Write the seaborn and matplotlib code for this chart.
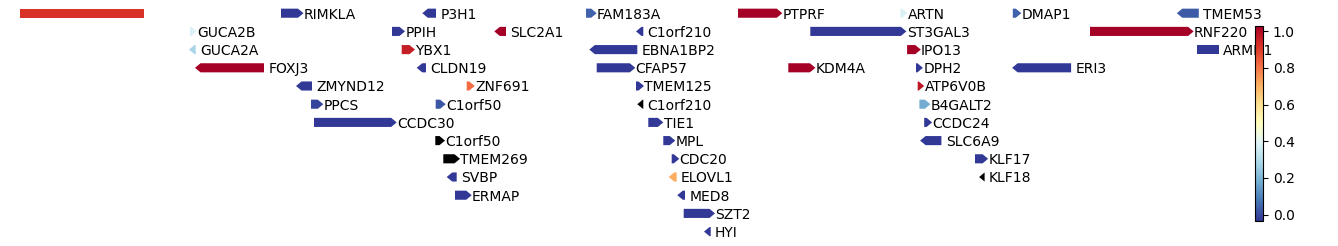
import numpy as np
import matplotlib
matplotlib.use("Agg")
import matplotlib.pyplot as plt
import matplotlib.colors as mcolors
import matplotlib.cm as mcm
from matplotlib.patches import Polygon
import seaborn as sns

# ---- data (track position units, row index from top, strand, score) ----
genes = ["", "RIMKLA", "P3H1", "FAM183A", "PTPRF", "ARTN", "DMAP1", "TMEM53",
         "GUCA2B", "PPIH", "SLC2A1", "C1orf210", "ST3GAL3", "RNF220",
         "GUCA2A", "YBX1", "EBNA1BP2", "IPO13", "ARMH1",
         "FOXJ3", "CLDN19", "CFAP57", "KDM4A", "DPH2", "ERI3",
         "ZMYND12", "ZNF691", "TMEM125", "ATP6V0B",
         "PPCS", "C1orf50", "C1orf210", "B4GALT2",
         "CCDC30", "TIE1", "CCDC24",
         "C1orf50", "MPL", "SLC6A9",
         "TMEM269", "CDC20", "KLF17",
         "SVBP", "ELOVL1", "KLF18",
         "ERMAP", "MED8",
         "SZT2",
         "HYI"]
starts = [20, 281, 422.3, 586, 738, 900.5, 1012.8, 1176.8,
          190, 392, 494.3, 636, 810.3, 1090,
          189, 401.7, 589.3, 907.1, 1197.3,
          195, 416.7, 596.7, 788.3, 916, 1012.1,
          296, 466.7, 636, 917.7,
          311, 435.7, 637.3, 919.4,
          314, 648.3, 924.2,
          435.3, 663.3, 920.1,
          443.3, 671.7, 975,
          446.7, 668.7, 979.1,
          455, 677.3,
          683.7,
          704]
ends = [144, 303.5, 436, 596.7, 782.3, 907.4, 1021.3, 1198.8,
        196.7, 405, 506, 643.3, 906.4, 1193.6,
        195.7, 415, 637.3, 920.8, 1219,
        264, 426, 635.3, 815.4, 922.9, 1071.1,
        312, 474.7, 644, 924.2,
        323.3, 445.7, 643.3, 930.4,
        396.7, 663.3, 932.1,
        445, 675.3, 941.4,
        460, 679.3, 988.1,
        456.7, 676.7, 984.6,
        471.7, 685,
        715,
        710.7]
strands = [".", "+", "-", "+", "+", "+", "+", "-",
           "+", "+", "-", "-", "+", "+",
           "-", "+", "-", "+", ".",
           "-", "-", "+", "+", "+", "-",
           "-", "+", "+", "+",
           "+", "+", "-", "+",
           "+", "+", "+",
           "+", "+", "-",
           "+", "+", "+",
           "-", "-", "-",
           "+", "-",
           "+",
           "-"]
rows = [0, 0, 0, 0, 0, 0, 0, 0,
        1, 1, 1, 1, 1, 1,
        2, 2, 2, 2, 2,
        3, 3, 3, 3, 3, 3,
        4, 4, 4, 4,
        5, 5, 5, 5,
        6, 6, 6,
        7, 7, 7,
        8, 8, 8,
        9, 9, 9,
        10, 10,
        11,
        12]
nan = float("nan")
scores = [0.92, -0.03, -0.03, 0.04, 1.03, 0.38, 0.04, 0.03,
          0.38, -0.03, 1.03, -0.03, -0.03, 1.03,
          0.28, 0.96, -0.03, 1.03, -0.03,
          1.03, -0.03, -0.03, 1.03, -0.03, -0.03,
          -0.03, 0.82, -0.03, 0.98,
          -0.01, 0.02, nan, 0.18,
          -0.03, -0.03, -0.03,
          nan, -0.03, -0.03,
          nan, -0.03, -0.03,
          -0.03, 0.71, nan,
          -0.03, -0.03,
          -0.03,
          -0.03]
cbar_ticks = [0.0, 0.2, 0.4, 0.6, 0.8, 1.0]
vmin, vmax = -0.035, 1.03

# ---- style ----
sns.set_theme(style="white")
plt.rcParams.update({
    "font.family": ["DejaVu Sans"],
    "font.size": 10,
    "ytick.labelsize": 10,
    "ytick.major.size": 3.5,
    "ytick.major.width": 0.8,
    "ytick.right": True,
    "ytick.color": "black",
    "axes.edgecolor": "black",
    "axes.linewidth": 0.8,
    "text.color": "black",
})

cmap = sns.color_palette("RdYlBu_r", as_cmap=True).copy()
cmap.set_bad("black")
norm = mcolors.Normalize(vmin=vmin, vmax=vmax)

W, H = 1338, 246
fig = plt.figure(figsize=(W / 100, H / 100), dpi=100)
ax = fig.add_axes([0, 0, 1, 1])
ax.set_xlim(0, W)
row_px0, row_step = 13.2, 18.2
ax.set_ylim((H - row_px0) / row_step, -row_px0 / row_step)
ax.axis("off")

half = 0.25
head = 5.5
for name, s, e, st, r, v in zip(genes, starts, ends, strands, rows, scores):
    color = cmap(norm(np.ma.masked_invalid(v)))
    L = e - s
    hl = min(head, L)
    if st == "+":
        verts = [(s, r - half), (e - hl, r - half), (e, r), (e - hl, r + half), (s, r + half)]
    elif st == "-":
        verts = [(e, r - half), (s + hl, r - half), (s, r), (s + hl, r + half), (e, r + half)]
    else:
        verts = [(s, r - half), (e, r - half), (e, r + half), (s, r + half)]
    ax.add_patch(Polygon(verts, closed=True, facecolor=color, edgecolor="none", lw=0))
    if name:
        off = 0.2 if st == "+" else 3.1
        ax.annotate(name, xy=(e, r), xytext=(off, 0), textcoords="offset points",
                    ha="left", va="center_baseline", fontsize=10, color="black")

cax = fig.add_axes([1255 / W, (H - 221) / H, 8 / W, 195.3 / H])
sm = mcm.ScalarMappable(norm=norm, cmap=cmap)
cb = fig.colorbar(sm, cax=cax, ticks=cbar_ticks)
cb.ax.set_yticklabels([f"{t:.1f}" for t in cbar_ticks])
cb.outline.set_edgecolor("black")
cb.outline.set_linewidth(0.8)
cb.ax.tick_params(axis="y", length=3.5, width=0.8, labelsize=10, colors="black")

fig.savefig("out.png", dpi=100)
